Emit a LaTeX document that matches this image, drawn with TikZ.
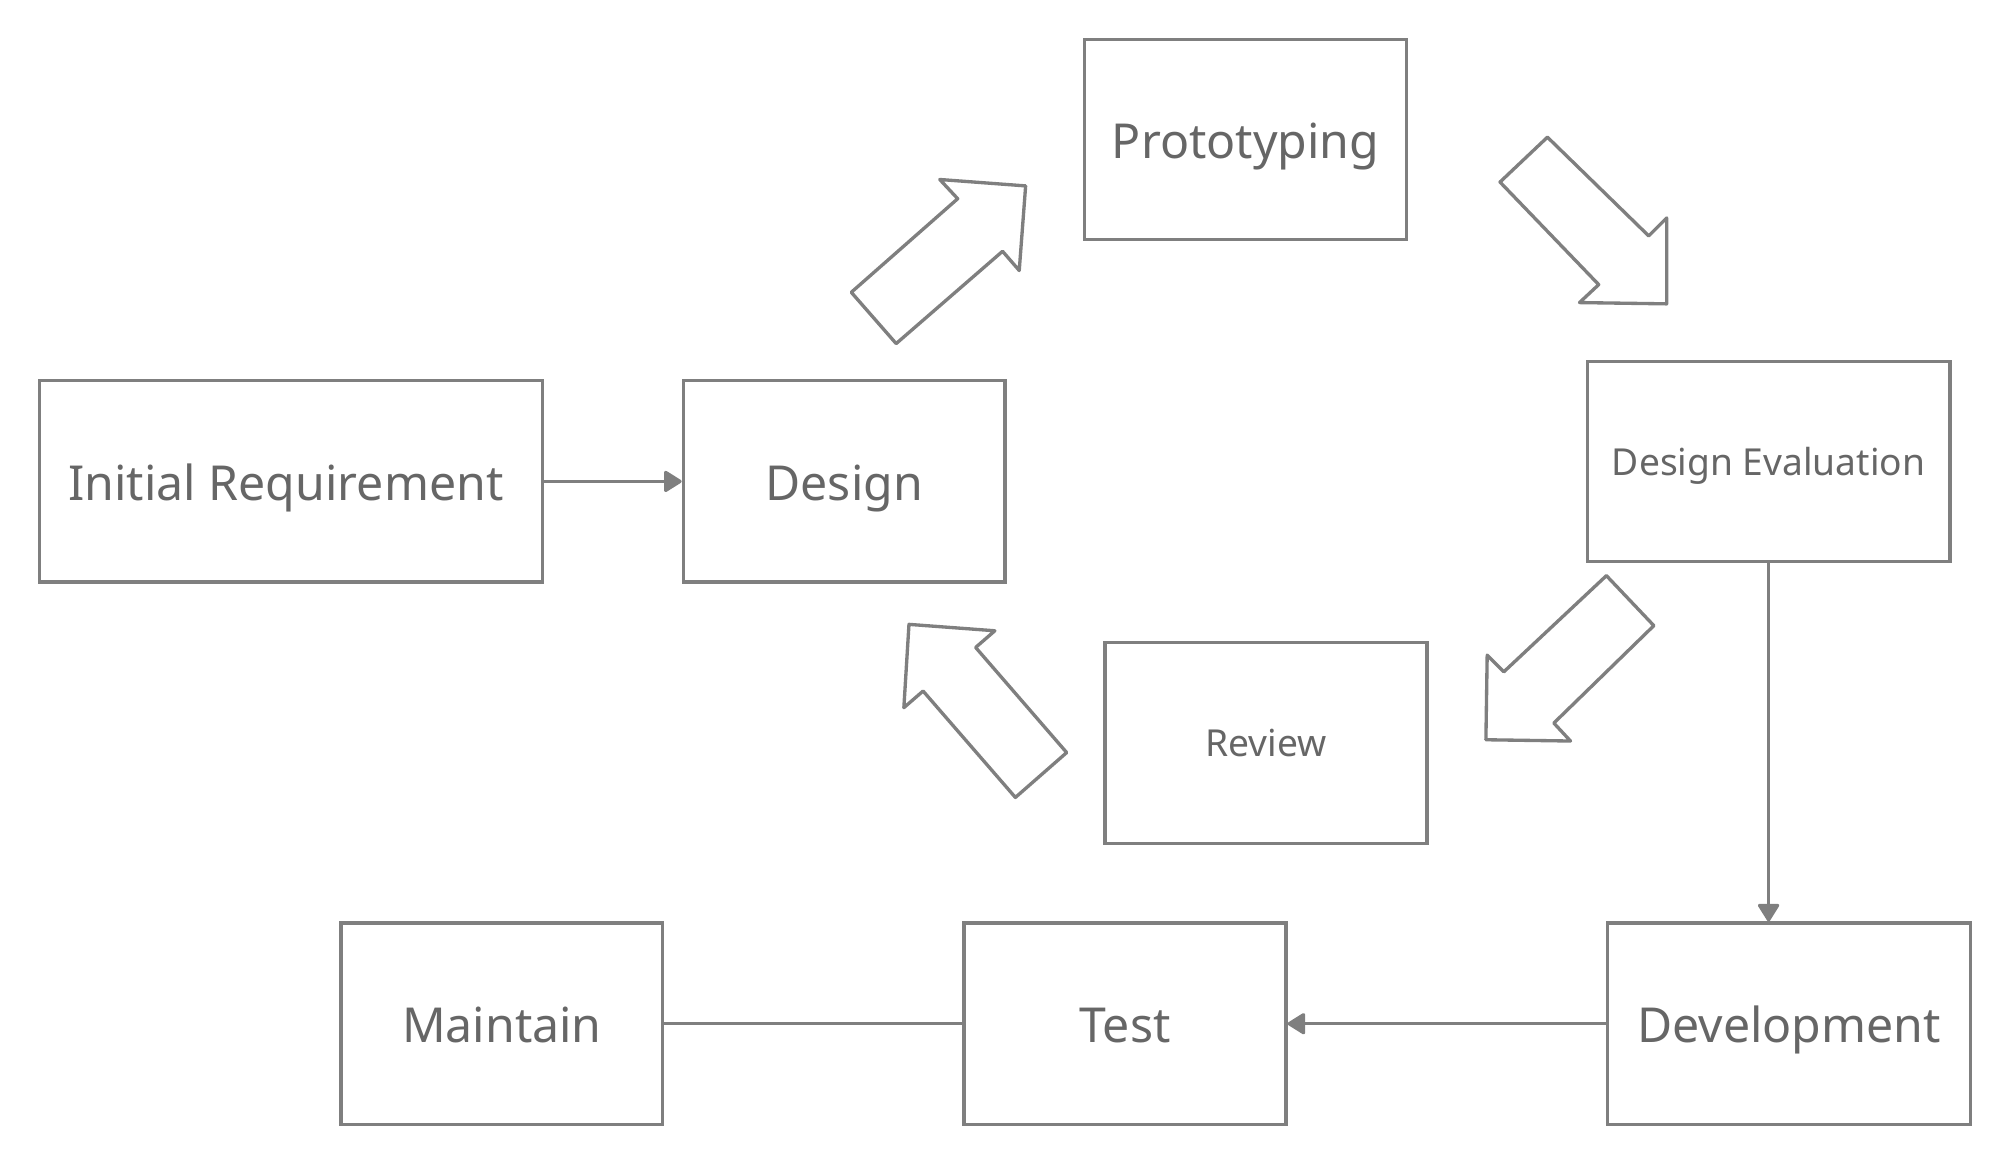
\documentclass[tikz,border=0pt]{standalone}
\usepackage{fontspec}
\setmainfont{Noto Sans}
\usetikzlibrary{arrows.meta}
\definecolor{edge}{HTML}{7F7F7F}
\definecolor{txt}{HTML}{666666}
\tikzset{
  box/.style={draw=edge, line width=1.3pt, rectangle, inner sep=0pt, text=txt, font=\fontsize{18.8}{22}\selectfont, text height=17pt, text depth=2pt},
  smalltext/.style={font=\fontsize{14.5}{17}\selectfont, text height=13pt, text depth=2.2pt},
  conn/.style={draw=edge, line width=1.3pt, -{Triangle[length=7.5pt,width=9pt,round]}},
  plain/.style={draw=edge, line width=1.3pt},
  blockarrow/.style={draw=edge, line width=1.3pt, line join=round, fill=white}
}
\begin{document}
\begin{tikzpicture}[x=0.5pt,y=-0.5pt]
\useasboundingbox (0,0) rectangle (1560,905);
\node[box, minimum width=196pt, minimum height=78.5pt] (ir) at (227,375.5) {\hspace*{-4pt}Initial Requirement};
\node[box, minimum width=125.5pt, minimum height=78.5pt] (design) at (658.5,375.5) {Design};
\node[box, minimum width=125.5pt, minimum height=78pt] (proto) at (971.5,109) {Prototyping};
\node[box, smalltext, minimum width=141.5pt, minimum height=78pt] (eval) at (1379.5,360) {Design Evaluation};
\node[box, smalltext, minimum width=125.5pt, minimum height=78.5pt] (review) at (987.5,579.5) {Review};
\node[box, minimum width=125.5pt, minimum height=78.5pt] (maintain) at (391.5,798.5) {Maintain};
\node[box, minimum width=125.5pt, minimum height=78.5pt] (test) at (877.5,798.5) {Test};
\node[box, minimum width=141.5pt, minimum height=78.5pt] (dev) at (1395.5,798.5) {Development};

\draw[conn] (ir) -- (design);
\draw[conn] (eval.south) -- (eval.south |- dev.north);
\draw[conn] (dev) -- (test);
\draw[plain] (maintain) -- (test);

% block arrows
\draw[blockarrow] (664,228) -- (747,155) -- (733,140) -- (800,145) -- (795,211) -- (782,196) -- (699,268) -- cycle;
\draw[blockarrow] (1170,142) -- (1207,107) -- (1286,184) -- (1300,170) -- (1300,237) -- (1232,236) -- (1247,222) -- cycle;
\draw[blockarrow] (1253,449) -- (1290,488) -- (1212,564) -- (1225,578) -- (1159,577) -- (1160,511) -- (1173,524) -- cycle;
\draw[blockarrow] (832,587) -- (792,622) -- (720,539) -- (705,552) -- (709,487) -- (776,492) -- (761,505) -- cycle;
\end{tikzpicture}
\end{document}
